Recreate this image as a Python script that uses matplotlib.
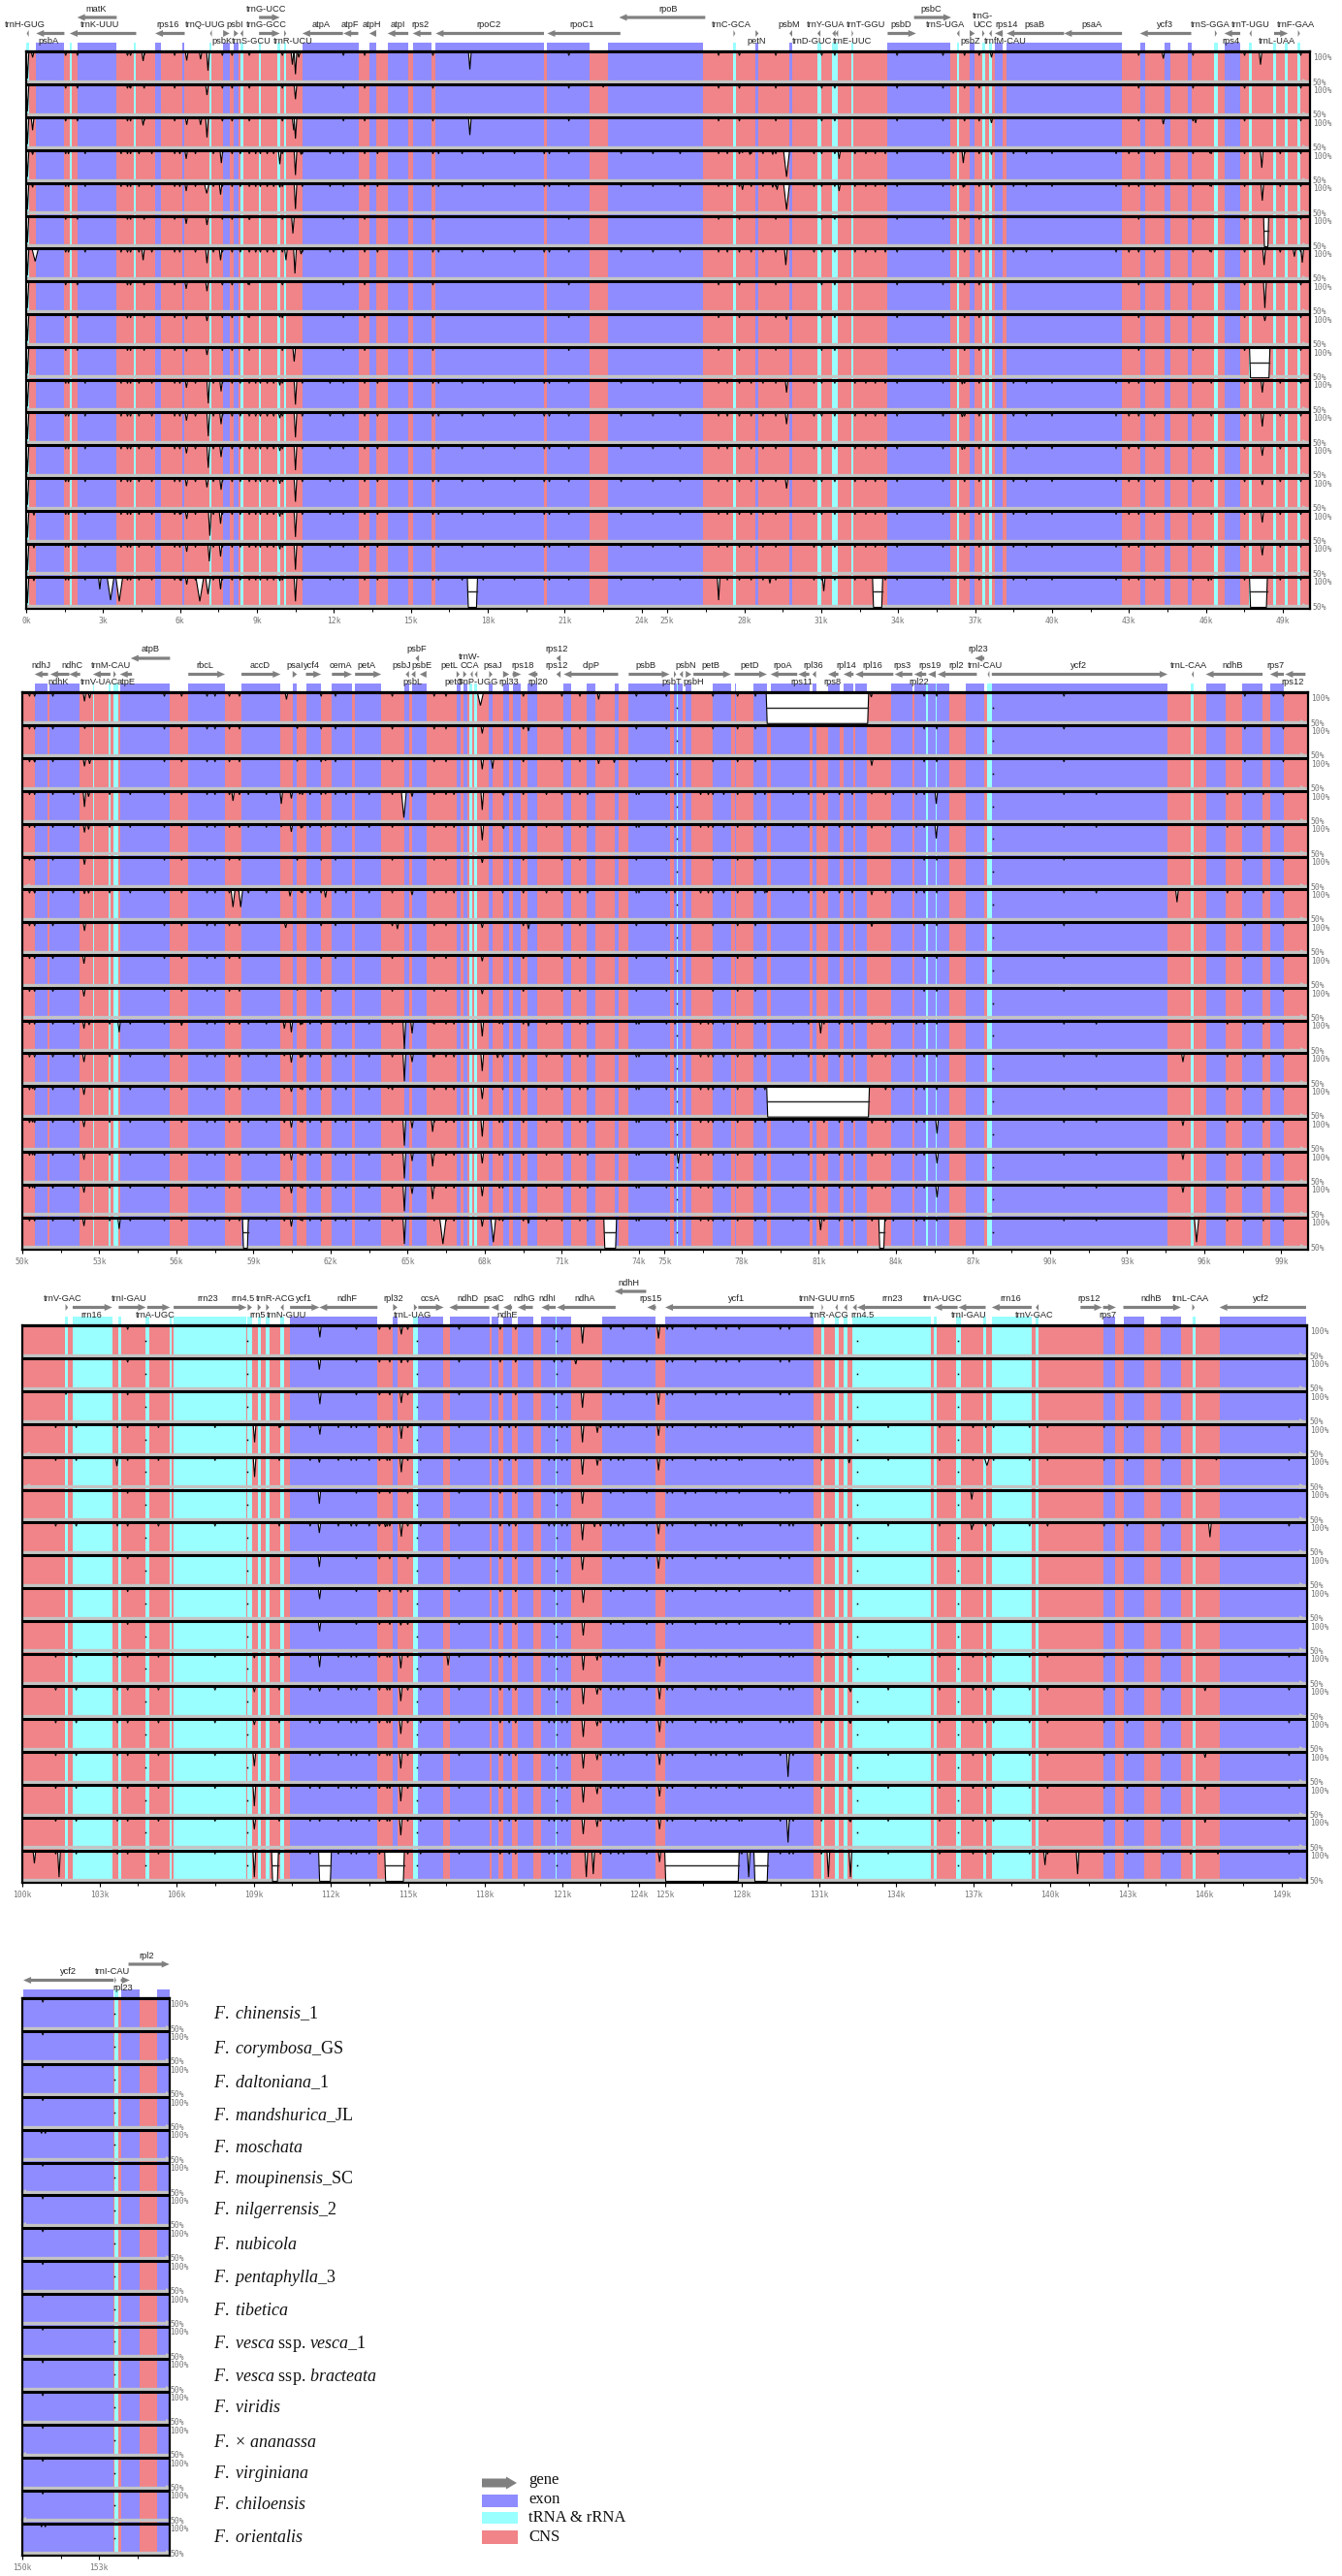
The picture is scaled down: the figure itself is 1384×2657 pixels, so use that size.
import matplotlib
matplotlib.use('Agg')
import matplotlib.pyplot as plt
from matplotlib.patches import FancyArrow, Rectangle

plt.rcParams['font.family'] = ['Liberation Sans', 'DejaVu Sans']
plt.rcParams['mathtext.fontset'] = 'custom'
plt.rcParams['mathtext.it'] = 'Liberation Serif:italic'
plt.rcParams['mathtext.rm'] = 'Liberation Serif'

EXON = '#8f8cff'
TRNA = '#99ffff'
CNS = '#f08488'
GENE = '#808080'
BAR = '#c4c4c4'
TICK = '#777777'

W, H = 1384, 2657
ROWS = 17

species = [r'$\mathit{F.\ chinensis}$_1', r'$\mathit{F.\ corymbosa}$_GS', r'$\mathit{F.\ daltoniana}$_1',
           r'$\mathit{F.\ mandshurica}$_JL', r'$\mathit{F.\ moschata}$', r'$\mathit{F.\ moupinensis}$_SC',
           r'$\mathit{F.\ nilgerrensis}$_2', r'$\mathit{F.\ nubicola}$', r'$\mathit{F.\ pentaphylla}$_3',
           r'$\mathit{F.\ tibetica}$', r'$\mathit{F.\ vesca}$ ssp. $\mathit{vesca}$_1',
           r'$\mathit{F.\ vesca}$ ssp. $\mathit{bracteata}$', r'$\mathit{F.\ viridis}$',
           r'$\mathit{F.}$ $\times$ $\mathit{ananassa}$', r'$\mathit{F.\ virginiana}$',
           r'$\mathit{F.\ chiloensis}$', r'$\mathit{F.\ orientalis}$']
species_y = [2077, 2113, 2148, 2182, 2216, 2248, 2280, 2316, 2350, 2384, 2418, 2451, 2484, 2519, 2552, 2583, 2618]

legend_names = ['exon', 'tRNA & rRNA', 'CNS']
legend_colors = [EXON, TRNA, CNS]

# exon and tRNA/rRNA spans, kb
p1_exons = [(.39, 1.49), (1.99, 3.53), (5.03, 5.27), (6.09, 6.18), (7.68, 7.93), (8.1, 8.27), (10.77, 12.95),
            (13.38, 13.65), (14.09, 14.9), (15.07, 15.8), (15.97, 20.19), (20.32, 21.97), (22.67, 26.41),
            (28.44, 28.56), (29.75, 29.87), (33.59, 36.05), (36.79, 36.99), (37.77, 38.08), (38.23, 42.73),
            (43.43, 43.63), (44.37, 44.61), (45.3, 45.45), (46.72, 47.34)]
p1_trna = [(0, .13), (1.69, 1.79), (4.2, 4.29), (7.16, 7.24), (8.35, 8.46), (9.08, 9.15), (9.79, 9.89),
           (10.06, 10.14), (27.58, 27.66), (30.85, 30.99), (31.43, 31.65), (32.19, 32.27), (36.29, 36.39),
           (37.28, 37.38), (37.55, 37.67), (46.33, 46.45), (47.68, 47.78), (48.64, 48.73), (49.08, 49.18),
           (49.57, 49.69)]
p2_exons = [(50.48, 50.99), (51.07, 52.23), (53.8, 55.75), (56.46, 57.89), (58.53, 60.05), (60.52, 60.69),
            (61.04, 61.63), (62.05, 62.83), (62.95, 63.97), (64.88, 65.05), (65.17, 65.73), (66.9, 67.04),
            (67.18, 67.31), (68.15, 68.3), (68.71, 68.95), (69.08, 69.41), (69.67, 70.05), (71.07, 71.37),
            (71.96, 72.3), (73.07, 73.19), (73.6, 75.2), (75.36, 75.7), (75.82, 76.04), (76.88, 77.57),
            (77.75, 77.79), (78.44, 78.98), (79.15, 80.63), (80.75, 80.89), (81.36, 81.8), (81.96, 82.34),
            (82.42, 82.87), (83.82, 84.63), (84.71, 85.55), (85.59, 86.08), (86.72, 87.44), (87.73, 94.57),
            (96.07, 96.82), (97.46, 98.27), (98.58, 99.1)]
p2_trna = [(52.75, 52.8), (53.34, 53.43), (53.55, 53.72), (67.41, 67.5), (67.58, 67.71), (75.46, 75.52),
           (85.18, 85.25), (85.55, 85.59), (87.54, 87.73), (95.48, 95.59)]
p3_exons = [(110.42, 113.82), (114.43, 114.6), (115.41, 116.38), (116.64, 118.17), (118.25, 118.54),
            (118.72, 119.06), (119.28, 119.87), (120.2, 120.76), (120.8, 121.35), (122.55, 124.32),
            (124.32, 124.66), (125.02, 130.8), (142.06, 142.54), (142.85, 143.66), (144.3, 145.09),
            (146.59, 149.96)]
p3_trna = [(101.66, 101.79), (101.96, 103.5), (103.75, 103.85), (104.78, 104.95), (105.75, 105.82),
           (105.89, 108.73), (108.77, 108.94), (109.16, 109.29), (109.49, 109.63), (110.03, 110.18),
           (115.22, 115.41), (120.76, 120.8), (131.09, 131.21), (131.61, 131.76), (131.96, 132.13),
           (132.3, 135.35), (135.49, 135.59), (136.34, 136.51), (137.4, 137.51), (137.73, 139.28),
           (139.43, 139.56), (145.53, 145.66)]
p4_exons = [(150.04, 153.56), (153.85, 154.6), (155.25, 155.75)]
p4_trna = [(153.59, 153.74)]

# name, start, end, strand, track (0 main, 1 upper), label kb, label side (a above, b below)
p1_genes = [('trnH-GUG', .02, .1, -1, 0, -.03, 'a'), ('psbA', .39, 1.49, -1, 0, .86, 'b'),
            ('trnK-UUU', 1.7, 4.29, -1, 0, 2.87, 'a'), ('matK', 1.99, 3.53, -1, 1, 2.73, 'a'),
            ('rps16', 5.03, 6.18, -1, 0, 5.54, 'a'), ('trnQ-UUG', 7.17, 7.24, -1, 0, 7.0, 'a'),
            ('psbK', 7.68, 7.93, 1, 0, 7.65, 'b'), ('psbI', 8.1, 8.27, 1, 0, 8.13, 'a'),
            ('trnS-GCU', 8.35, 8.46, -1, 0, 8.78, 'b'), ('trnG-UCC', 9.08, 9.89, 1, 1, 9.37, 'a'),
            ('trnG-GCC', 9.08, 9.89, 1, 0, 9.37, 'a'), ('trnR-UCU', 10.06, 10.14, 1, 0, 10.4, 'b'),
            ('atpA', 10.77, 12.35, -1, 0, 11.51, 'a'), ('atpF', 12.37, 12.95, -1, 0, 12.62, 'a'),
            ('atpH', 13.38, 13.65, -1, 0, 13.49, 'a'), ('atpI', 14.09, 14.9, -1, 0, 14.48, 'a'),
            ('rps2', 15.07, 15.8, -1, 0, 15.38, 'a'), ('rpoC2', 15.97, 20.19, -1, 0, 18.03, 'a'),
            ('rpoC1', 20.32, 23.17, -1, 0, 21.67, 'a'), ('rpoB', 23.12, 26.48, -1, 1, 25.03, 'a'),
            ('trnC-GCA', 27.58, 27.65, 1, 0, 27.48, 'a'), ('petN', 28.44, 28.56, 1, 0, 28.46, 'b'),
            ('psbM', 29.76, 29.87, -1, 0, 29.74, 'a'), ('trnD-GUC', 30.85, 30.97, -1, 0, 30.63, 'b'),
            ('trnY-GUA', 31.43, 31.56, -1, 0, 31.19, 'a'), ('trnE-UUC', 31.56, 31.66, -1, 0, 32.2, 'b'),
            ('trnT-GGU', 32.19, 32.25, 1, 0, 32.76, 'a'), ('psbD', 33.59, 34.7, 1, 0, 34.13, 'a'),
            ('psbC', 34.62, 36.07, 1, 1, 35.27, 'a'), ('trnS-UGA', 36.29, 36.39, -1, 0, 35.86, 'a'),
            ('psbZ', 36.79, 36.99, 1, 0, 36.81, 'b'), ('trnG-\nUCC', 37.28, 37.37, 1, 0, 37.3, 'a'),
            ('trnfM-CAU', 37.55, 37.65, -1, 0, 38.18, 'b'), ('rps14', 37.77, 38.08, -1, 0, 38.23, 'a'),
            ('psaB', 38.23, 40.47, -1, 0, 39.32, 'a'), ('psaA', 40.47, 42.73, -1, 0, 41.55, 'a'),
            ('ycf3', 43.43, 45.43, -1, 0, 44.39, 'a'), ('trnS-GGA', 46.35, 46.43, 1, 0, 46.16, 'a'),
            ('rps4', 46.72, 47.34, -1, 0, 46.97, 'b'), ('trnT-UGU', 47.7, 47.78, -1, 0, 47.73, 'a'),
            ('trnL-UAA', 48.66, 49.2, 1, 0, 48.78, 'b'), ('trnF-GAA', 49.59, 49.67, 1, 0, 49.5, 'a')]
p2_genes = [('ndhJ', 50.48, 51.0, -1, 0, 50.73, 'a'), ('ndhK', 51.09, 51.83, -1, 0, 51.41, 'b'),
            ('ndhC', 51.83, 52.25, -1, 0, 51.96, 'a'), ('trnV-UAC', 52.75, 53.43, -1, 0, 53.01, 'b'),
            ('trnM-CAU', 53.55, 53.65, 1, 0, 53.46, 'a'), ('atpE', 53.8, 54.27, -1, 0, 54.05, 'b'),
            ('atpB', 54.22, 55.75, -1, 1, 54.98, 'a'), ('rbcL', 56.46, 57.89, 1, 0, 57.12, 'a'),
            ('accD', 58.53, 60.05, 1, 0, 59.26, 'a'), ('psaI', 60.52, 60.69, 1, 0, 60.6, 'a'),
            ('ycf4', 61.04, 61.63, 1, 0, 61.28, 'a'), ('cemA', 62.05, 62.83, 1, 0, 62.41, 'a'),
            ('petA', 62.95, 63.97, 1, 0, 63.4, 'a'), ('psbJ', 64.92, 65.05, -1, 0, 64.77, 'a'),
            ('psbL', 65.14, 65.3, -1, 0, 65.19, 'b'), ('psbF', 65.3, 65.44, -1, 1, 65.34, 'a'),
            ('psbE', 65.47, 65.73, -1, 0, 65.56, 'a'), ('petL', 66.9, 67.02, 1, 0, 66.63, 'a'),
            ('petG', 67.16, 67.29, 1, 0, 66.82, 'b'), ('trnW-\nCCA', 67.44, 67.53, -1, 0, 67.41, 'a'),
            ('trnP-UGG', 67.61, 67.71, -1, 0, 67.75, 'b'), ('psaJ', 68.17, 68.3, 1, 0, 68.32, 'a'),
            ('rpl33', 68.71, 68.95, 1, 0, 68.93, 'b'), ('rps18', 69.08, 69.41, 1, 0, 69.46, 'a'),
            ('rpl20', 69.68, 70.05, -1, 0, 70.07, 'b'), ('rps12', 70.78, 70.95, -1, 1, 70.78, 'a'),
            ('rps12', 70.78, 70.95, -1, 0, 70.78, 'a'), ('clpP', 71.07, 73.19, -1, 0, 72.13, 'a'),
            ('psbB', 73.6, 75.19, 1, 0, 74.26, 'a'), ('psbT', 75.36, 75.45, 1, 0, 75.28, 'b'),
            ('psbN', 75.58, 75.71, -1, 0, 75.83, 'a'), ('psbH', 75.82, 76.04, 1, 0, 76.12, 'b'),
            ('petB', 76.12, 77.58, 1, 0, 76.79, 'a'), ('petD', 77.72, 78.98, 1, 0, 78.31, 'a'),
            ('rpoA', 79.12, 80.16, -1, 0, 79.59, 'a'), ('rps11', 80.2, 80.63, -1, 0, 80.33, 'b'),
            ('rpl36', 80.75, 80.89, -1, 0, 80.77, 'a'), ('rps8', 81.36, 81.76, -1, 0, 81.51, 'b'),
            ('rpl14', 81.96, 82.35, -1, 0, 82.08, 'a'), ('rpl16', 82.42, 83.9, -1, 0, 83.09, 'a'),
            ('rps3', 83.95, 84.64, -1, 0, 84.24, 'a'), ('rpl22', 84.71, 85.18, -1, 0, 84.88, 'b'),
            ('rps19', 85.25, 85.55, -1, 0, 85.32, 'a'), ('rpl2', 85.62, 87.15, -1, 0, 86.33, 'a'),
            ('rpl23', 87.07, 87.44, -1, 1, 87.19, 'a'), ('trnI-CAU', 87.57, 87.64, -1, 0, 87.46, 'a'),
            ('ycf2', 87.73, 94.57, 1, 0, 91.11, 'a'), ('trnL-CAA', 95.51, 95.59, -1, 0, 95.41, 'a'),
            ('ndhB', 96.06, 98.27, -1, 0, 97.11, 'a'), ('rps7', 98.56, 99.1, -1, 0, 98.79, 'a'),
            ('rps12', 99.15, 99.94, -1, 0, 99.42, 'b')]
p3_genes = [('trnV-GAC', 101.68, 101.78, 1, 0, 101.59, 'a'), ('rrn16', 101.96, 103.5, 1, 0, 102.67, 'b'),
            ('trnI-GAU', 103.75, 104.81, 1, 0, 104.17, 'a'), ('trnA-UGC', 104.86, 105.75, 1, 0, 105.18, 'b'),
            ('rrn23', 105.89, 108.73, 1, 0, 107.22, 'a'), ('rrn4.5', 108.77, 108.94, 1, 0, 108.57, 'a'),
            ('rrn5', 109.16, 109.29, 1, 0, 109.16, 'b'), ('trnR-ACG', 109.49, 109.61, 1, 0, 109.87, 'a'),
            ('trnN-GUU', 110.05, 110.17, -1, 0, 110.28, 'b'), ('ycf1', 110.42, 111.56, 1, 0, 110.96, 'a'),
            ('ndhF', 111.56, 113.82, -1, 0, 112.64, 'a'), ('rpl32', 114.43, 114.6, 1, 0, 114.43, 'a'),
            ('trnL-UAG', 115.24, 115.37, 1, 0, 115.19, 'b'), ('ccsA', 115.41, 116.4, 1, 0, 115.86, 'a'),
            ('ndhD', 116.62, 118.17, -1, 0, 117.34, 'a'), ('psaC', 118.25, 118.54, -1, 0, 118.35, 'a'),
            ('ndhE', 118.72, 119.06, -1, 0, 118.86, 'b'), ('ndhG', 119.28, 119.87, -1, 0, 119.52, 'a'),
            ('ndhI', 120.2, 120.76, -1, 0, 120.42, 'a'), ('ndhA', 120.8, 123.09, -1, 0, 121.89, 'a'),
            ('ndhH', 123.05, 124.28, -1, 1, 123.59, 'a'), ('rps15', 124.32, 124.66, -1, 0, 124.44, 'a'),
            ('ycf1', 125.02, 130.8, -1, 0, 127.8, 'a'), ('trnN-GUU', 131.11, 131.17, 1, 0, 131.0, 'a'),
            ('trnR-ACG', 131.64, 131.73, -1, 0, 131.41, 'b'), ('rrn5', 131.98, 132.1, -1, 0, 132.1, 'a'),
            ('rrn4.5', 132.32, 132.47, -1, 0, 132.69, 'b'), ('rrn23', 132.49, 135.35, -1, 0, 133.85, 'a'),
            ('trnA-UGC', 135.49, 136.4, -1, 0, 135.82, 'a'), ('trnI-GAU', 136.43, 137.49, -1, 0, 136.85, 'b'),
            ('rrn16', 137.73, 139.28, -1, 0, 138.45, 'a'), ('trnV-GAC', 139.44, 139.55, -1, 0, 139.38, 'b'),
            ('rps12', 141.18, 142.02, 1, 0, 141.53, 'a'), ('rps7', 142.06, 142.56, 1, 0, 142.26, 'b'),
            ('ndhB', 142.85, 145.09, 1, 0, 143.93, 'a'), ('trnL-CAA', 145.53, 145.63, 1, 0, 145.46, 'a'),
            ('ycf2', 146.59, 149.96, -1, 0, 148.22, 'a')]
p4_genes = [('ycf2', 150.04, 153.57, -1, 0, 151.78, 'a'), ('trnI-CAU', 153.61, 153.67, 1, 0, 153.54, 'a'),
            ('rpl23', 153.85, 154.2, 1, 0, 153.93, 'b'), ('rpl2', 154.15, 155.75, 1, 1, 154.86, 'a')]

# conservation dips per species row: (kb, depth in %) and optional half width
p1_dips = [
    [(.05, 45), (.25, 10), (4.56, 16), (6.26, 15), (6.8, 13), (7.09, 32), (10.38, 22), (10.5, 38), (10.63, 10), (17.3, 30), (37.64, 10), (44.34, 12), (48.13, 22)],
    [(.05, 45), (4.05, 6), (7.05, 18), (10.5, 25), (22.5, 5)],
    [(.05, 45), (.25, 22), (4.56, 14), (6.26, 13), (6.8, 13), (7.05, 34), (10.43, 22), (10.5, 36), (17.3, 30), (37.64, 10), (44.34, 12), (45.6, 10)],
    [(.05, 45), (.25, 8), (6.24, 15), (7.61, 22), (9.89, 24), (10.5, 42), (10.72, 8), (27.93, 5), (28.22, 8), (29.11, 8), (29.65, 45, .12), (31.7, 15), (36.15, 6), (36.54, 22), (37.64, 8), (46.16, 6), (48.18, 30)],
    [(.05, 45), (.25, 8), (6.24, 14), (7.04, 18, .1), (7.58, 20), (9.89, 8), (10.5, 44), (27.93, 12), (29.11, 8), (29.28, 12), (29.65, 45, .12), (31.7, 14), (36.15, 6), (36.54, 8), (37.64, 8), (46.16, 6), (48.2, 30)],
    [(.05, 45), (6.24, 14), (7.05, 16), (8.71, 7), (10.4, 30)],
    [(.05, 45), (.35, 22, .13), (4.56, 20), (7.05, 25), (7.58, 20), (10.13, 20), (10.48, 42), (10.72, 10), (29.62, 28), (46.16, 6), (48.27, 28), (49.45, 14), (49.76, 24)],
    [(.05, 45), (6.24, 13), (7.05, 17), (8.66, 6), (48.3, 45)],
    [(.05, 45), (6.25, 9), (7.05, 12), (8.66, 6), (9.89, 6), (29.65, 10), (48.3, 12)],
    [(.05, 45), (6.25, 8), (7.05, 14), (10.45, 25)],
    [(.05, 45), (6.25, 14), (7.1, 40), (7.6, 20), (9.89, 10), (10.5, 42), (29.65, 22), (36.5, 8), (48.2, 22)],
    [(.05, 45), (6.25, 14), (7.1, 40), (7.6, 20), (9.89, 10), (10.5, 42), (29.65, 20), (36.5, 8), (48.2, 24)],
    [(.05, 45), (6.25, 14), (7.1, 38), (7.6, 20), (9.89, 10), (10.5, 42), (36.5, 8), (48.2, 18)],
    [(.05, 45), (6.25, 14), (7.05, 16), (7.6, 20), (9.89, 10), (10.5, 40), (29.65, 18), (48.2, 12)],
    [(.05, 45), (.3, 8), (6.04, 6), (6.26, 14), (7.16, 42), (7.58, 22), (9.89, 10), (10.5, 44), (48.2, 20)],
    [(.05, 45), (.3, 8), (6.26, 14), (7.14, 30), (7.58, 22), (9.89, 10), (10.5, 44), (48.2, 20)],
    [(.05, 45), (.3, 8), (2.87, 22), (3.29, 40, .14), (3.63, 42, .14), (6.04, 8), (6.26, 14), (6.77, 42, .16), (7.09, 30, .1), (7.58, 22), (8.03, 6), (9.89, 8), (10.5, 42), (27.0, 40), (29.0, 12), (31.1, 25), (46.1, 8)],
]
p2_dips = [
    [(52.42, 15), (52.62, 10), (60.28, 12), (67.83, 22, .12), (72.43, 12), (83.04, 8)],
    [(52.43, 6), (60.7, 6), (67.9, 14), (69.7, 10)],
    [(50.48, 7), (52.42, 14), (52.62, 10), (60.7, 6), (61.8, 5), (67.9, 19), (68.3, 18), (72.43, 10), (73.04, 8), (83.06, 13)],
    [(52.42, 27), (52.58, 10), (58.2, 17), (60.08, 22), (60.47, 13), (60.8, 6), (61.8, 6), (64.85, 45, .1), (65.17, 10), (66.49, 4), (67.9, 32), (68.73, 8), (83.06, 6), (85.57, 22)],
    [(52.42, 15), (52.58, 10), (60.08, 6), (60.47, 14), (60.85, 8), (61.8, 5), (64.4, 5), (67.9, 28), (68.73, 9), (83.06, 8), (85.57, 25), (94.65, 3)],
    [(52.42, 14), (60.7, 7), (67.9, 11)],
    [(50.48, 6), (52.42, 8), (52.58, 7), (58.2, 30, .08), (58.5, 30, .08), (60.42, 12), (60.85, 6), (61.8, 14), (65.17, 10), (78.98, 6), (83.06, 10), (94.94, 22)],
    [(52.42, 15), (60.25, 10), (64.6, 12), (67.9, 10), (69.7, 12), (83.06, 8)],
    [(52.4, 15), (67.9, 11)],
    [(52.4, 15), (60.7, 5), (67.9, 11)],
    [(52.4, 14), (52.6, 8), (53.77, 20), (56.2, 9), (60.2, 14), (60.47, 20), (60.83, 8), (64.87, 48), (65.17, 22), (65.97, 5), (67.9, 27), (68.57, 6), (69.7, 10), (81.07, 22), (83.07, 7)],
    [(52.4, 15), (60.2, 5), (60.47, 16), (60.83, 8), (64.87, 47), (65.17, 15), (66.0, 7), (67.9, 30), (68.5, 8), (83.07, 7), (95.17, 15)],
    [(50.4, 5), (52.4, 15), (60.2, 5), (60.47, 10), (60.83, 6), (64.25, 5), (67.9, 22), (83.07, 3)],
    [(50.4, 6), (52.4, 14), (60.2, 7), (60.47, 15), (60.83, 6), (64.87, 45), (65.17, 16), (65.97, 22), (66.5, 6), (67.9, 30), (68.57, 7), (83.07, 8), (85.6, 25), (95.17, 12)],
    [(50.4, 6), (52.4, 14), (60.2, 7), (60.47, 15), (60.83, 6), (64.87, 45), (65.17, 16), (65.97, 25), (66.5, 6), (67.9, 20), (68.57, 7), (75.53, 20), (83.07, 8), (85.6, 20), (95.17, 14)],
    [(50.4, 6), (52.4, 14), (60.2, 7), (60.47, 15), (60.83, 6), (64.87, 45), (65.17, 16), (65.97, 25), (66.5, 6), (67.9, 20), (68.57, 7), (83.07, 8), (85.6, 22), (95.17, 14)],
    [(52.4, 15), (53.77, 20), (60.2, 7), (60.47, 16), (60.83, 6), (64.87, 45), (66.37, 45, .13), (67.9, 16), (68.33, 42, .1), (68.57, 6), (69.7, 11), (81.07, 22), (83.07, 7), (95.7, 42, .09)],
]
p3_dips = [
    [(111.58, 20), (114.75, 15), (121.8, 30), (124.76, 22), (125.3, 3)],
    [(111.56, 19), (114.75, 8), (121.54, 10)],
    [(101.7, 6), (111.58, 22), (114.75, 20), (121.8, 28), (124.76, 23)],
    [(109.04, 31), (110.05, 6), (111.58, 18), (114.75, 25), (121.8, 31), (122.38, 15), (124.76, 20)],
    [(103.68, 16), (109.04, 34), (111.56, 10), (114.75, 26), (121.8, 30), (122.38, 15), (124.76, 23), (132.18, 11), (137.54, 15, .11), (146.47, 6)],
    [(111.56, 24), (121.8, 24), (125.8, 8), (136.95, 17)],
    [(111.56, 18), (114.13, 8), (114.75, 24), (121.8, 30), (122.27, 8), (124.76, 20), (136.95, 13), (146.22, 25)],
    [(111.56, 20), (121.8, 25), (124.76, 23)],
    [(111.57, 19), (114.73, 8), (121.83, 25)],
    [(111.57, 18), (114.73, 8), (121.83, 25)],
    [(109.03, 8), (111.57, 23), (114.73, 25), (116.57, 20), (121.83, 28), (122.37, 12), (124.8, 22), (132.23, 8)],
    [(109.03, 10), (111.57, 9), (114.73, 25), (121.83, 30), (122.37, 14), (124.8, 22), (132.23, 10), (146.03, 8)],
    [(109.03, 10), (111.57, 8), (114.73, 25), (121.83, 30), (122.37, 12), (124.8, 22), (132.23, 8)],
    [(109.03, 24), (111.57, 7), (114.73, 28), (121.83, 28), (122.37, 14), (124.8, 22), (129.8, 42), (132.23, 8), (146.03, 10)],
    [(109.03, 36), (111.57, 7), (114.73, 28), (121.83, 30), (122.37, 16), (124.8, 20), (132.23, 8), (146.03, 8)],
    [(109.03, 20), (111.57, 7), (114.73, 30), (121.83, 28), (122.37, 16), (124.8, 20), (129.8, 42), (132.23, 8), (146.03, 9)],
    [(100.47, 22), (101.43, 45), (109.03, 45), (121.95, 45), (122.22, 40), (124.8, 20), (128.27, 45), (131.37, 45), (132.23, 45), (139.8, 25), (141.07, 40), (145.47, 7), (146.53, 7)],
]
p4_dips = [[] for i in range(ROWS)]

# wide blank stretches per row: (start, end), kb
p1_gaps = {5: [(48.25, 48.45)], 9: [(47.7, 48.5)], 16: [(17.2, 17.6), (33.0, 33.4), (47.7, 48.4)]}
p2_gaps = {0: [(78.95, 82.94)], 12: [(78.97, 82.97)], 16: [(58.57, 58.8), (72.63, 73.13), (83.33, 83.57)]}
p3_gaps = {16: [(109.7, 109.97), (111.53, 112.03), (114.1, 114.87), (125.0, 127.9), (128.47, 129.03)]}
p4_gaps = {}

# small notches near 100%
p1_dots_sparse = [1.54, 2.0, 3.95, 4.07, 4.6, 5.79, 7.65, 8.03, 8.7, 9.99, 12.37, 13.2, 15.86, 21.16, 27.0, 27.81,
                  29.23, 31.02, 31.53, 33.96, 35.75, 36.59, 37.16, 43.38, 45.5, 47.51, 49.7]
p1_dots_dense = [1.54, 1.65, 2.3, 3.7, 3.95, 4.07, 4.4, 4.9, 5.79, 5.99, 6.6, 7.3, 7.65, 8.03, 8.35, 8.7, 8.95, 9.13,
                 9.4, 9.65, 9.99, 10.77, 11.85, 12.37, 13.2, 13.7, 15.86, 16.08, 17.0, 17.82, 19.04, 20.2, 20.4,
                 21.16, 23.2, 24.44, 25.5, 27.0, 27.34, 27.81, 28.27, 28.73, 29.23, 30.72, 31.02, 31.53, 32.32, 32.74,
                 33.11, 33.5, 33.96, 35.75, 36.59, 37.16, 38.5, 39.0, 40.0, 42.5, 43.0, 43.38, 44.0, 45.5, 46.21,
                 47.51, 48.9, 49.7]
p2_dots_sparse = [50.28, 50.48, 51.19, 55.53, 56.2, 57.19, 57.5, 58.06, 58.45, 61.63, 62.19, 64.4, 66.03, 66.49,
                  69.5, 71.0, 71.7, 73.9, 75.07, 76.88, 77.84, 78.53, 85.1, 85.59, 90.54, 97.58, 99.08]
p2_dots_dense = p2_dots_sparse + [52.0, 53.4, 54.2, 58.8, 59.5, 60.9, 61.2, 62.6, 63.5, 66.8, 68.7, 70.4, 72.0, 74.0,
                                  75.4, 76.4, 76.7, 77.3, 78.9, 80.0, 80.6, 81.2, 81.8, 82.3, 83.6, 83.9, 84.8,
                                  91.8, 96.9, 98.3]
p3_dots_sparse = [104.1, 113.0, 113.9, 114.3, 115.0, 117.0, 118.6, 119.2, 120.7, 121.0, 122.9, 123.4, 124.3, 125.3,
                  125.1, 126.2, 127.0, 127.4, 127.9, 129.5, 129.85]
p3_dots_dense = p3_dots_sparse + [101.3, 102.1, 103.7, 105.3, 107.5, 110.0, 111.2, 112.3, 112.8, 113.5, 114.2, 115.5,
                                  118.95, 120.5, 121.2, 122.5, 123.2, 126.8, 128.0, 130.0, 131.1, 132.2, 133.7, 135.7,
                                  137.0, 137.5, 137.8, 139.2, 139.9, 142.1, 143.0, 144.4, 149.3]
p4_dots_sparse = [150.8]
p4_dots_dense = [150.75, 150.9]

p1_dense_rows = [3, 4, 6, 10, 11, 12, 13, 14, 15, 16]
p2_dense_rows = [3, 4, 6, 10, 11, 12, 13, 14, 15, 16]
p3_dense_rows = [3, 4, 6, 10, 11, 12, 13, 14, 15, 16]
p4_dense_rows = [4, 16]

# little specks half way down each row
p1_specks = []
p2_specks = [75.48, 87.78]
p3_specks = [104.8, 108.75, 115.35, 120.8, 132.48, 136.42]
p4_specks = [153.59]

# rows whose grey gene bar also points left
p1_left_rows = []
p2_left_rows = [5]
p3_left_rows = [3, 4]
p4_left_rows = [5, 6, 13, 15]

p1_ticks = [0, 3, 6, 9, 12, 15, 18, 21, 24, 25, 28, 31, 34, 37, 40, 43, 46, 49]
p2_ticks = [50, 53, 56, 59, 62, 65, 68, 71, 74, 75, 78, 81, 84, 87, 90, 93, 96, 99]
p3_ticks = [100, 103, 106, 109, 112, 115, 118, 121, 124, 125, 128, 131, 134, 137, 140, 143, 146, 149]
p4_ticks = [150, 153]

panels = [
    dict(box=(27, 53, 1351, 628), lim=(0, 50.06), exons=p1_exons, trna=p1_trna, genes=p1_genes, dips=p1_dips,
         gaps=p1_gaps, sparse=p1_dots_sparse, dense=p1_dots_dense, dense_rows=p1_dense_rows, specks=p1_specks,
         left=p1_left_rows, ticks=p1_ticks, only_left=False),
    dict(box=(23, 714, 1349, 1289), lim=(50, 100.04), exons=p2_exons, trna=p2_trna, genes=p2_genes, dips=p2_dips,
         gaps=p2_gaps, sparse=p2_dots_sparse, dense=p2_dots_dense, dense_rows=p2_dense_rows, specks=p2_specks,
         left=p2_left_rows, ticks=p2_ticks, only_left=False),
    dict(box=(23, 1367, 1348, 1942), lim=(100, 150), exons=p3_exons, trna=p3_trna, genes=p3_genes, dips=p3_dips,
         gaps=p3_gaps, sparse=p3_dots_sparse, dense=p3_dots_dense, dense_rows=p3_dense_rows, specks=p3_specks,
         left=p3_left_rows, ticks=p3_ticks, only_left=False),
    dict(box=(23, 2061, 175, 2636), lim=(150, 155.76), exons=p4_exons, trna=p4_trna, genes=p4_genes, dips=p4_dips,
         gaps=p4_gaps, sparse=p4_dots_sparse, dense=p4_dots_dense, dense_rows=p4_dense_rows, specks=p4_specks,
         left=p4_left_rows, ticks=p4_ticks, only_left=True),
]


def px_axes(fig, left, top, right, bottom, **kw):
    return fig.add_axes([left / W, 1 - bottom / H, (right - left) / W, (bottom - top) / H], **kw)


def draw_genes(fig, p):
    l, t, r, b = p['box']
    ax = px_axes(fig, l, t - 52, r, t)
    ax.set_xlim(*p['lim'])
    ax.set_ylim(0, 52)
    ax.axis('off')
    kb_per_px = (p['lim'][1] - p['lim'][0]) / (r - l)
    for s, e in p['exons']:
        ax.add_patch(Rectangle((s, 0), e - s, 9, color=EXON, lw=0, clip_on=False))
    for s, e in p['trna']:
        ax.add_patch(Rectangle((s, 0), e - s, 9, color=TRNA, lw=0, clip_on=False))
    for name, s, e, strand, track, lab, side in p['genes']:
        y = 35 if track else 18.5
        start = s if strand > 0 else e
        length = (e - s) * strand
        head = min(8 * kb_per_px, e - s)
        ax.add_patch(FancyArrow(start, y, length, 0, width=3.2, head_width=7, head_length=head,
                                length_includes_head=True, color=GENE, lw=0, clip_on=False))
        if side == 'a':
            ax.text(lab, y + 4.5, name, ha='center', va='bottom', fontsize=6.7, linespacing=1.0, color='#222222')
        else:
            ax.text(lab, y - 3.5, name, ha='center', va='top', fontsize=6.7, color='#222222')


def draw_row(fig, p, i):
    l, t, r, b = p['box']
    h = (b - t) / ROWS
    ax = px_axes(fig, l, t + i * h, r, t + (i + 1) * h)
    x0, x1 = p['lim']
    ax.set_xlim(x0, x1)
    ax.set_ylim(45.5, 100)
    ax.axis('off')
    ax.axvspan(x0, x1, color=CNS, lw=0, zorder=1)
    for s, e in p['exons']:
        ax.axvspan(s, e, color=EXON, lw=0, zorder=1)
    for s, e in p['trna']:
        ax.axvspan(s, e, color=TRNA, lw=0, zorder=1)

    # grey gene bar at the 50% line
    bar_left = i in p['left']
    ax.plot([x0, x1], [50, 50], color=BAR, lw=2.4, solid_capstyle='butt', zorder=2)
    tip = (x1 - x0) * 0.004
    if not (p['only_left'] and bar_left):
        ax.plot([x1 - tip], [50], marker='>', ms=5, color=BAR, mew=0, zorder=2, clip_on=False)
    if bar_left:
        ax.plot([x0 + tip], [50], marker='<', ms=5, color=BAR, mew=0, zorder=2, clip_on=False)

    dots = p['dense'] if i in p['dense_rows'] else p['sparse']
    for kb in dots:
        ax.fill([kb - .055, kb, kb + .055], [100, 93, 100], facecolor='white', edgecolor='black', lw=.7, zorder=4)
    for dip in p['dips'][i]:
        kb, depth = dip[0], dip[1]
        hw = dip[2] if len(dip) > 2 else .055
        ax.fill([kb - hw, kb, kb + hw], [100, 100 - depth, 100], facecolor='white', edgecolor='black', lw=.8, zorder=4)
    for s, e in p['gaps'].get(i, []):
        inset = min(.04, (e - s) / 6)
        ax.fill([s, s + inset, e - inset, e], [100, 48, 48, 100], facecolor='white', edgecolor='black', lw=.8, zorder=4)
        ax.plot([s + inset / 2, e - inset / 2], [74, 74], color='#222222', lw=1, zorder=5)
    for kb in p['specks']:
        ax.plot([kb], [74], marker='s', ms=1.1, color='black', mew=0, zorder=3)

    ax.plot([x0, x1], [99.3, 99.3], color='black', lw=2.2, solid_capstyle='butt', zorder=6, clip_on=False)
    ax.text(1.002, .805, '100%', transform=ax.transAxes, ha='left', va='center', fontsize=5.8,
            family='DejaVu Sans Mono', color=TICK)
    ax.text(1.002, .053, '50%', transform=ax.transAxes, ha='left', va='center', fontsize=5.8,
            family='DejaVu Sans Mono', color=TICK)


def draw_frame(fig, p):
    l, t, r, b = p['box']
    ax = px_axes(fig, l, t, r, b)
    ax.patch.set_alpha(0)
    ax.set_xlim(*p['lim'])
    ax.set_ylim(0, 1)
    ax.set_yticks([])
    for side in ax.spines.values():
        side.set_linewidth(1.6)
    ticks = p['ticks']
    ax.set_xticks(ticks)
    ax.set_xticklabels(['%dk' % k for k in ticks], fontsize=5.8, family='DejaVu Sans Mono', color=TICK)
    between = [(a + c) / 2 for a, c in zip(ticks[:-1], ticks[1:]) if c - a == 3]
    if p['only_left']:
        between += [154.5]
    ax.set_xticks(between, minor=True)
    ax.tick_params(axis='x', which='major', length=3, width=.8, pad=3)
    ax.tick_params(axis='x', which='minor', length=2, width=.7)


fig = plt.figure(figsize=(W / 100, H / 100), dpi=100, facecolor='white')

for p in panels:
    draw_genes(fig, p)
    for i in range(ROWS):
        draw_row(fig, p, i)
    draw_frame(fig, p)

# species names and legend sit on one figure-wide axes in pixel units
page = fig.add_axes([0, 0, 1, 1], zorder=-1)
page.set_xlim(0, W)
page.set_ylim(H, 0)
page.axis('off')
for name, y in zip(species, species_y):
    page.text(220, y, name, fontsize=13, family='Liberation Serif', ha='left', va='center', color='#111111')

page.add_patch(FancyArrow(497, 2561, 36, 0, width=9, head_width=13, head_length=11, length_includes_head=True,
                          color=GENE, lw=0))
page.text(545, 2558, 'gene', fontsize=12, family='Liberation Serif', va='center', color='#111111')
for name, color, top, bottom, ty in zip(legend_names, legend_colors, [2573, 2591, 2610], [2586, 2603, 2624],
                                        [2578, 2597, 2617]):
    page.add_patch(Rectangle((497, top), 37, bottom - top, color=color, lw=0))
    page.text(545, ty, name, fontsize=12, family='Liberation Serif', va='center', color='#111111')

fig.savefig('out.png', dpi=100)
